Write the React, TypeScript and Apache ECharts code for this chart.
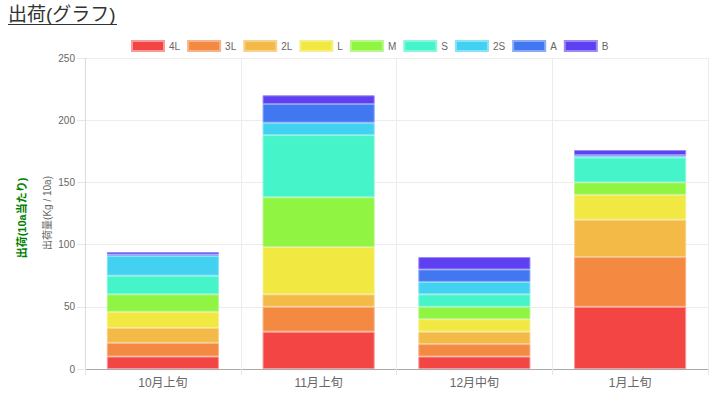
import React, { useEffect, useRef } from "react";
import * as echarts from "echarts";

const categories = ["10月上旬", "11月上旬", "12月中旬", "1月上旬"];
const seriesNames = ["4L", "3L", "2L", "L", "M", "S", "2S", "A", "B"];
const v4L = [10, 30, 10, 50];
const v3L = [11, 20, 10, 40];
const v2L = [12, 10, 10, 30];
const vL = [13, 38, 10, 20];
const vM = [14, 40, 10, 10];
const vS = [15, 50, 10, 20];
const v2S = [16, 10, 10, 1];
const vA = [1, 15, 10, 1];
const vB = [2, 7, 10, 4];
const yTicks = [0, 50, 100, 150, 200, 250];
const seriesValues = [v4L, v3L, v2L, vL, vM, vS, v2S, vA, vB];
const colors = ["#f44545", "#f48a42", "#f4ba47", "#f2e842", "#90f443", "#45f4c9", "#43d1f2", "#4178f2", "#5e40f2"];
const borders = ["#f79a9a", "#f7b48a", "#f7d28e", "#f5ef8a", "#b8f78a", "#8af7dc", "#8ae2f7", "#8aaaf7", "#9a8af7"];

const FONT = '"Liberation Sans", Arial, "Noto Sans CJK JP", sans-serif';

export default function App() {
  const ref = useRef<HTMLDivElement>(null);
  useEffect(() => {
    if (!ref.current) return;
    const chart = echarts.init(ref.current, null, { renderer: "svg" });
    chart.setOption({
      animation: false,
      textStyle: { fontFamily: FONT },
      legend: {
        left: 126,
        top: 35,
        itemWidth: 32,
        itemHeight: 10,
        itemGap: 7,
        icon: "rect",
        textStyle: { color: "#666", fontSize: 10, fontFamily: FONT },
        data: seriesNames,
      },
      grid: { left: 85, right: 6, top: 58, bottom: 24 },
      xAxis: {
        type: "category",
        data: categories,
        axisLine: { lineStyle: { color: "#aaa" } },
        axisTick: { show: true, length: 6, lineStyle: { color: "#e6e6e6" } },
        splitLine: { show: true, lineStyle: { color: "#ececec" } },
        axisLabel: { color: "#666", fontSize: 12, margin: 8, fontFamily: FONT },
      },
      yAxis: {
        type: "value",
        min: yTicks[0],
        max: yTicks[yTicks.length - 1],
        interval: 50,
        axisLine: { show: true, lineStyle: { color: "#dcdcdc" } },
        axisTick: { show: true, length: 8, lineStyle: { color: "#e6e6e6" } },
        splitLine: { show: true, lineStyle: { color: "#ececec" } },
        axisLabel: { color: "#666", fontSize: 10, margin: 10, fontFamily: FONT },
      },
      graphic: [
        {
          type: "text",
          left: 8,
          top: 5,
          style: { text: "出荷(グラフ)", fontSize: 19, fill: "#333", fontFamily: FONT },
        },
        {
          type: "line",
          shape: { x1: 8, y1: 24.5, x2: 117, y2: 24.5 },
          style: { stroke: "#333", lineWidth: 1 },
        },
        {
          type: "text",
          x: 22,
          y: 218,
          rotation: Math.PI / 2,
          style: {
            text: "出荷(10a当たり)",
            fontSize: 11,
            fontWeight: "bold",
            fill: "#008000",
            align: "center",
            verticalAlign: "middle",
            fontFamily: FONT,
          },
        },
        {
          type: "text",
          x: 47,
          y: 213,
          rotation: Math.PI / 2,
          style: {
            text: "出荷量(Kg / 10a)",
            fontSize: 10,
            fill: "#666",
            align: "center",
            verticalAlign: "middle",
            fontFamily: FONT,
          },
        },
      ],
      series: seriesNames.map((name, i) => ({
        name,
        type: "bar",
        stack: "total",
        barWidth: "72%",
        data: seriesValues[i],
        itemStyle: { color: colors[i], borderColor: borders[i], borderWidth: 1 },
      })),
    });
    return () => chart.dispose();
  }, []);
  return <div ref={ref} style={{ position: "absolute", left: 0, top: 0, width: 714, height: 393 }} />;
}
